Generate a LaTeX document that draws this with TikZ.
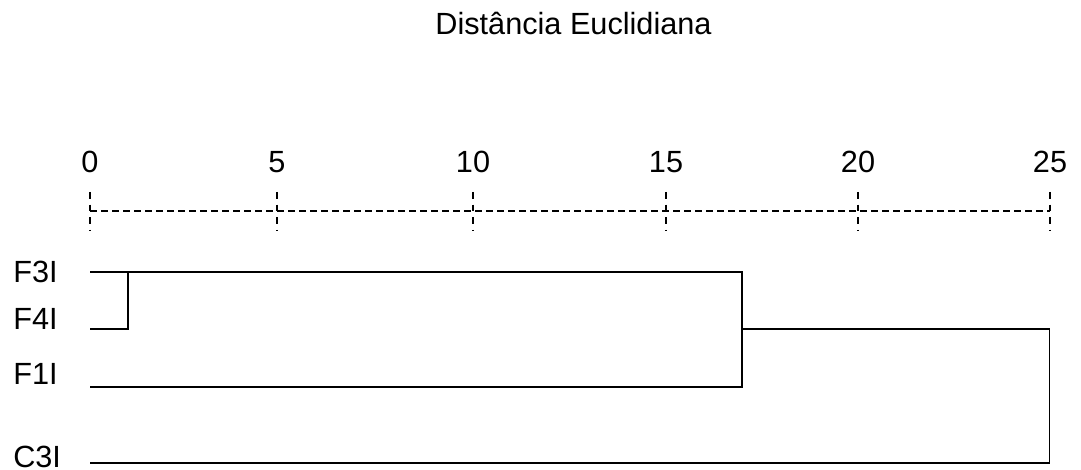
\documentclass[tikz,border=0pt]{standalone}
\usepackage{fontspec}
\setmainfont{Liberation Sans}
\usetikzlibrary{positioning}
\tikzset{
  lbl/.style  = {font=\fontsize{23}{28}\selectfont, inner sep=0pt},
  leaf/.style = {lbl, anchor=base west},
  num/.style  = {lbl, anchor=base},
  axis/.style = {line width=1pt, dash pattern=on 5.25pt off 3pt},
  tickmark/.style = {line width=1pt, dash pattern=on 5pt off 4.5pt},
  link/.style = {line width=1.4pt, line join=miter},
}

\begin{document}
\begin{tikzpicture}[x=0.75pt, y=-0.75pt]
  \useasboundingbox (0,0) rectangle (1081,470);

  % Title
  \node[num] (title) at (573.5,35) {Distância Euclidiana};

  % Scale
  \draw[axis] (90,211) -- (1050,211);
  \foreach \v/\x in {0/90,5/277,10/473,15/666,20/858,25/1050}{
    \node[num] (t\v) at (\x,173) {\v};
    \draw[tickmark] (\x,192) -- (\x,231);
  }

  % Leaves
  \node[leaf] (lf3) at (13,282) {F3I};
  \node[leaf] (lf4) at (13,329.5) {F4I};
  \node[leaf] (lf1) at (13,384.5) {F1I};
  \node[leaf] (lc3) at (13,467) {C3I};

  \coordinate (f3) at (90,271.7);
  \coordinate (f4) at (90,329.3);
  \coordinate (f1) at (90,386.7);
  \coordinate (c3) at (90,463);

  % Joins
  \coordinate (j1)  at (128,271.7);
  \coordinate (j2)  at (742,271.7);
  \coordinate (m2)  at (742,329.3);
  \coordinate (j3)  at (1049.5,329.3);

  \draw[link] (f4) -| (j1);
  \draw[link] (f3) -- (j2) |- (f1);
  \draw[link] (m2) -- (j3) |- (c3);

\end{tikzpicture}
\end{document}
